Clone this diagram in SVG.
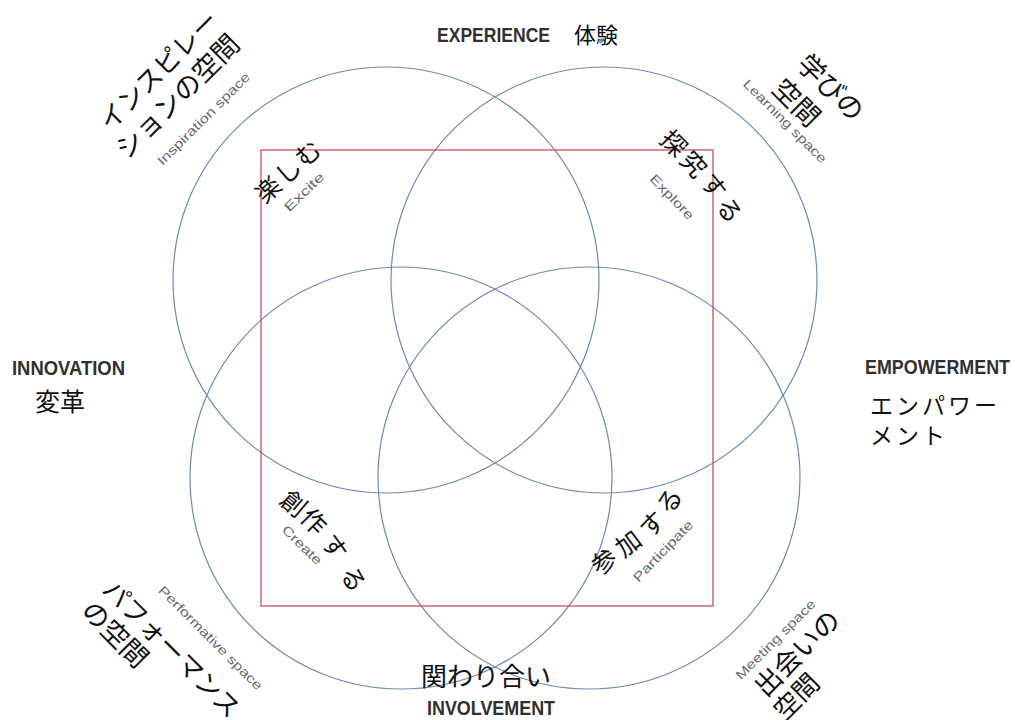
<svg xmlns="http://www.w3.org/2000/svg" width="1015" height="720" viewBox="0 0 1015 720">
<style>
.c{fill:none;stroke:#7189ad;stroke-width:1.2}
.r{fill:none;stroke:#c8505f;stroke-width:1.3}
.h{font-family:"Liberation Sans",Arial,sans-serif;font-weight:bold;font-size:20px;fill:#303030}
.jp{font-family:"Noto Sans CJK JP","Noto Sans",sans-serif;fill:#111}
.g{font-family:"Liberation Sans",Arial,sans-serif;font-size:13px;fill:#6a6a6a}
.m{dominant-baseline:central}
.ch{font-family:"Noto Sans CJK JP",sans-serif;fill:#111;font-size:25px;text-anchor:middle;dominant-baseline:central}
.gc{text-anchor:middle;dominant-baseline:central}
</style>
<rect width="1015" height="720" fill="#fff"/>
<g id="circles">
<circle id="circle-experience-tl" class="c" cx="386" cy="280" r="213"/>
<circle id="circle-experience-tr" class="c" cx="604" cy="280" r="213"/>
<circle id="circle-involvement-bl" class="c" cx="401" cy="478" r="211"/>
<circle id="circle-involvement-br" class="c" cx="589" cy="478" r="211"/>
</g>
<g id="frame"><rect class="r" x="261" y="150" width="452" height="456"/></g>

<g id="experience">
<text class="h" x="437" y="42" textLength="113" lengthAdjust="spacingAndGlyphs">EXPERIENCE</text>
<text class="jp" x="574" y="43" font-size="22">体験</text>
</g>
<g id="innovation">
<text class="h" x="12" y="375" textLength="113" lengthAdjust="spacingAndGlyphs">INNOVATION</text>
<text class="jp" x="35" y="411" font-size="25">変革</text>
</g>
<g id="empowerment">
<text class="h" x="865" y="374" textLength="145" lengthAdjust="spacingAndGlyphs">EMPOWERMENT</text>
<text class="jp" x="870" y="414" font-size="23" letter-spacing="3">エンパワー</text>
<text class="jp" x="870" y="444" font-size="23" letter-spacing="3">メント</text>
</g>
<g id="involvement">
<text class="jp" x="421" y="686" font-size="26">関わり合い</text>
<text class="h" x="427" y="715" textLength="128" lengthAdjust="spacingAndGlyphs">INVOLVEMENT</text>
</g>

<g id="inspiration-space" transform="translate(102,124) rotate(-45)">
<text class="jp m" x="0" y="0" font-size="26">インスピレー</text>
<text class="jp m" x="-8" y="32" font-size="27">ションの空間</text>
<text class="g m" x="13" y="68" textLength="125" lengthAdjust="spacingAndGlyphs">Inspiration space</text>
</g>
<g id="learning-space" transform="translate(803.5,57.5) rotate(45)">
<text class="jp m" x="0" y="0" font-size="27">学びの</text>
<text class="jp m" x="0" y="35" font-size="27">空間</text>
<text class="g m" x="-24" y="58" textLength="112" lengthAdjust="spacingAndGlyphs">Learning space</text>
</g>
<g id="performative-space" transform="translate(109,583) rotate(45)">
<text class="jp m" x="0" y="0" font-size="26">パフォーマンス</text>
<text class="jp m" x="0" y="30" font-size="27">の空間</text>
<text class="g m" x="40" y="-33" textLength="141" lengthAdjust="spacingAndGlyphs">Performative space</text>
</g>
<g id="meeting-space" transform="translate(757.5,690) rotate(-45)">
<text class="jp m" x="0" y="0" font-size="27">出会いの</text>
<text class="jp m" x="-3" y="30" font-size="26">空間</text>
<text class="g m" x="-5" y="-23" textLength="107" lengthAdjust="spacingAndGlyphs">Meeting space</text>
</g>

<g id="excite">
<text class="ch" transform="translate(267,188) rotate(-42)">楽</text>
<text class="ch" transform="translate(287,170) rotate(-42)">し</text>
<text class="ch" transform="translate(307,152) rotate(-42)">む</text>
<text class="g gc" transform="translate(304,192) rotate(-44)" textLength="50" lengthAdjust="spacingAndGlyphs">Excite</text>
</g>
<g id="explore">
<text class="ch" transform="translate(675,142) rotate(45)">探</text>
<text class="ch" transform="translate(695,163) rotate(48)">究</text>
<text class="ch" transform="translate(715,185) rotate(52)">す</text>
<text class="ch" transform="translate(731,209) rotate(58)">る</text>
<text class="g gc" transform="translate(672,197) rotate(46)" textLength="57" lengthAdjust="spacingAndGlyphs">Explore</text>
</g>
<g id="create">
<text class="ch" transform="translate(295,502) rotate(40)">創</text>
<text class="ch" transform="translate(315,520) rotate(45)">作</text>
<text class="ch" transform="translate(336,546) rotate(55)">す</text>
<text class="ch" transform="translate(355,578) rotate(62)">る</text>
<text class="g gc" transform="translate(302,545) rotate(44)" textLength="50" lengthAdjust="spacingAndGlyphs">Create</text>
</g>
<g id="participate">
<text class="ch" transform="translate(603,560) rotate(-35)">参</text>
<text class="ch" transform="translate(627,542) rotate(-37)">加</text>
<text class="ch" transform="translate(651,523) rotate(-45)">す</text>
<text class="ch" transform="translate(668,500) rotate(-55)">る</text>
<text class="g gc" transform="translate(663,551) rotate(-46)" textLength="80" lengthAdjust="spacingAndGlyphs">Participate</text>
</g>
</svg>
